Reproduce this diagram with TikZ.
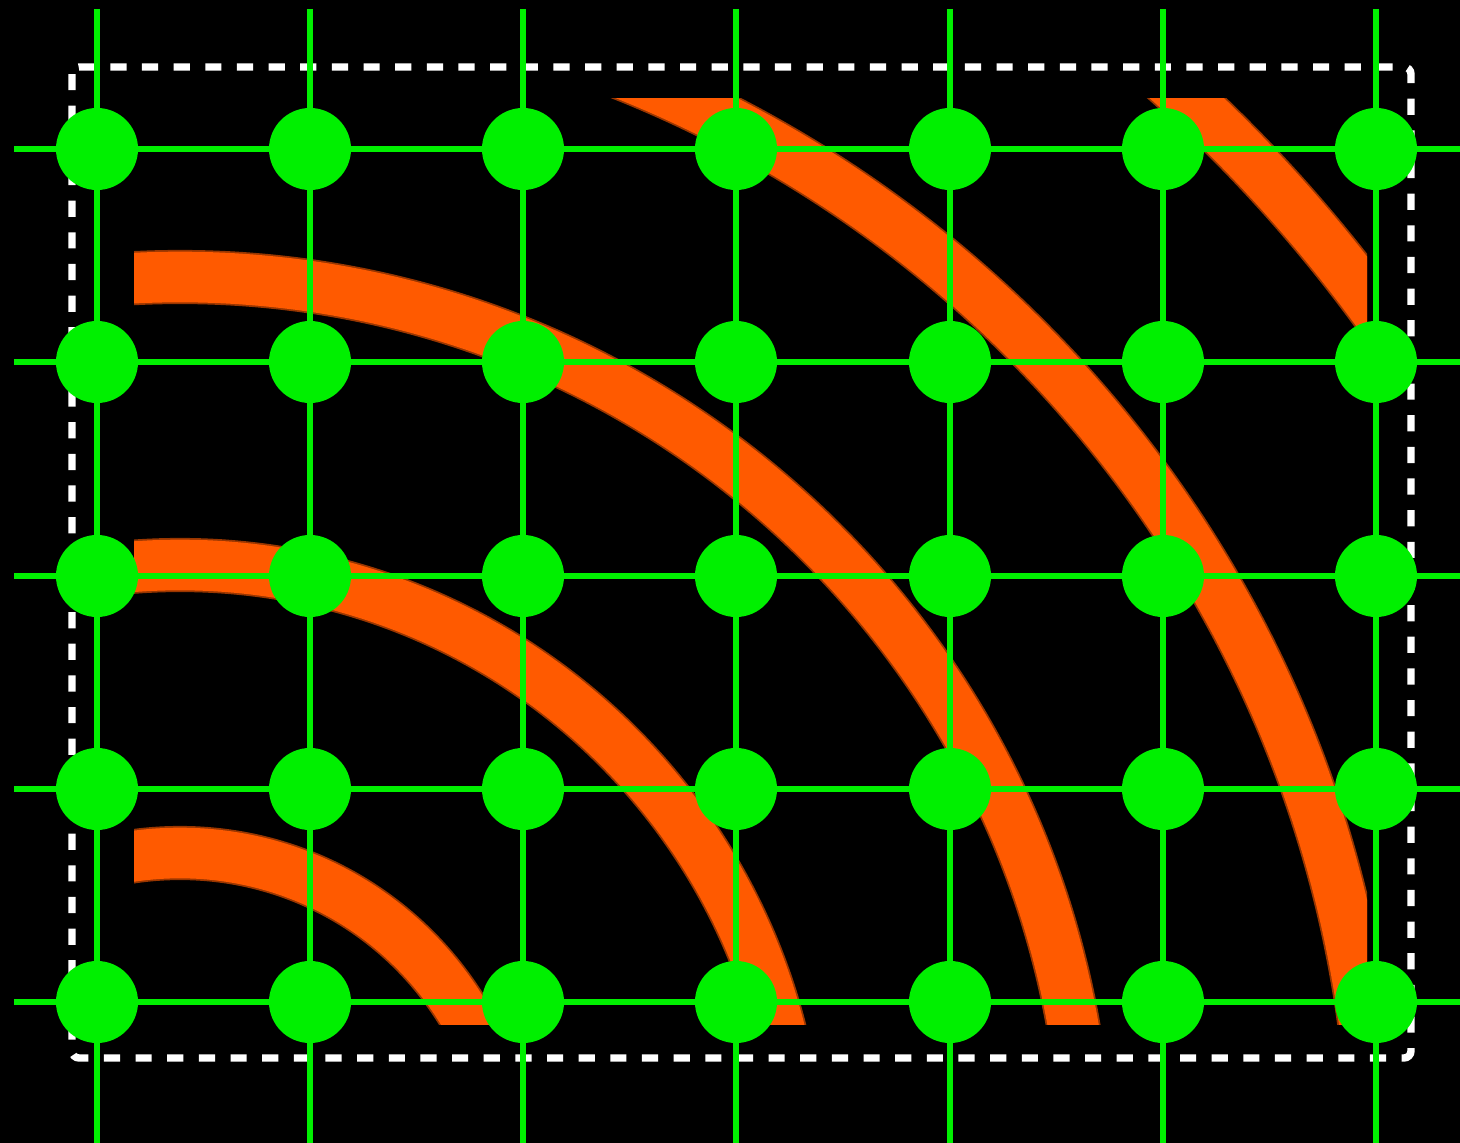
\documentclass[tikz,border=0pt]{standalone}
\usepackage{tikz}
\usetikzlibrary{positioning,calc}
\definecolor{gridGreen}{RGB}{0,240,0}
\definecolor{waveOrange}{RGB}{255,90,0}
\tikzset{
    gridDot/.style={circle, fill=gridGreen, minimum size=0.82cm, inner sep=0pt},
    gridLine/.style={draw=gridGreen, line width=1.45pt},
    % Wave bands
    waveBand/.style={draw=waveOrange, line width=14.4pt},
    waveBlur/.style={draw=waveOrange, line width=15.4pt, opacity=0.6},
    frameBox/.style={draw=white, line width=2.1pt, dash pattern=on 4.6pt off 4.4pt, rounded corners=2pt}
}

\begin{document}
\begin{tikzpicture}[x=0.01cm, y=-0.01cm]
\fill[black] (0,0) rectangle (1460,1143);
\useasboundingbox (0,0) rectangle (1460,1143);

% wave arcs
\begin{scope}
\clip (134,99) rectangle (1367,1024);
\foreach \r in {331,619,907,1195,1481} {
    \draw[waveBlur] (180,1184) circle (\r);
    \draw[waveBand] (180,1184) circle (\r);
}
\end{scope}

% frame
\draw[frameBox] (72,67) rectangle (1411,1058);

% grid lines
\foreach \i/\x in {0/97,1/310,2/523,3/736,4/950,5/1163,6/1376} {
    \coordinate (colTop\i) at (\x,9);
    \coordinate (colBot\i) at (\x,1143);
    \draw[gridLine] (colTop\i) -- (colBot\i);
}
\foreach \j/\y in {0/149,1/362,2/576,3/789,4/1002} {
    \coordinate (rowLeft\j) at (14,\y);
    \coordinate (rowRight\j) at (1460,\y);
    \draw[gridLine] (rowLeft\j) -- (rowRight\j);
}

% grid points
\foreach \i/\x in {0/97,1/310,2/523,3/736,4/950,5/1163,6/1376}
    \foreach \j/\y in {0/149,1/362,2/576,3/789,4/1002}
        \node[gridDot] (dot-\i-\j) at (\x,\y) {};
\end{tikzpicture}
\end{document}
